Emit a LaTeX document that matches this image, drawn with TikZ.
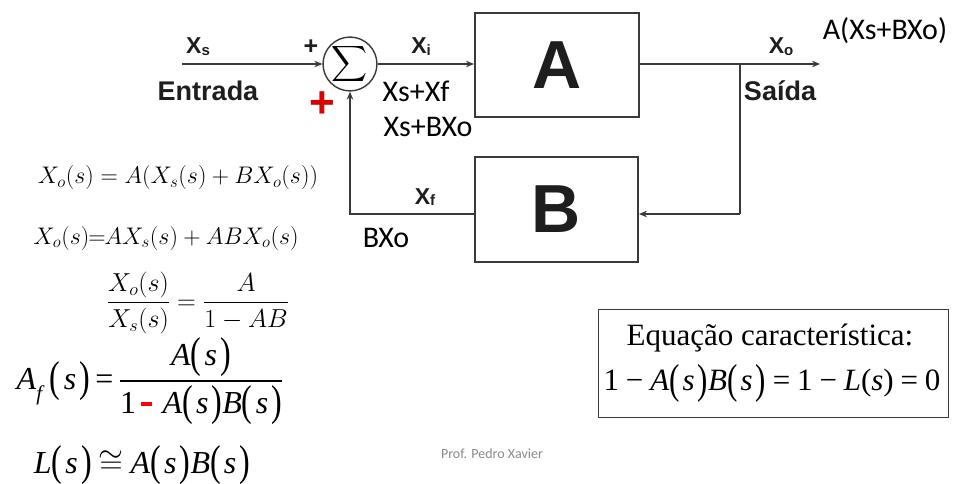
\documentclass[tikz,border=0pt]{standalone}
\usepackage{fix-cm}
\usepackage{amsmath,amssymb}
\usepackage{graphicx}
\usepackage{fontspec}
\usetikzlibrary{arrows.meta}
\newfontfamily\arl{Liberation Sans}
\newfontfamily\clb{Carlito}
\newfontfamily\tnr{Liberation Serif}
\newcommand\fs[1]{\fontsize{#1}{#1}\selectfont}
\newcommand\bpar[1]{\raisebox{-0.07em}{\scalebox{1}[1.35]{(}}\kern0.1em#1\kern0.1em\raisebox{-0.07em}{\scalebox{1}[1.35]{)}}}
\newcommand\ti[1]{\textit{#1}}
\newcommand\gapsp{\kern0.22em}
\definecolor{lc}{HTML}{3A3A3A}
\definecolor{tc}{HTML}{1E1E1E}
\definecolor{foot}{HTML}{8A8A8A}
\begin{document}
\begin{tikzpicture}[x=1pt,y=-1pt,
  wire/.style={draw=lc, line width=1.4pt},
  arr/.style={wire, -{Stealth[length=8pt,width=6.5pt]}},
  blk/.style={draw=lc, line width=2pt, minimum width=164pt, minimum height=104pt, inner sep=0pt, text=tc, font=\arl\bfseries\fs{68}},
  lab/.style={font=\arl\bfseries\fs{23}, text=tc, inner sep=0pt},
  big/.style={font=\arl\bfseries\fs{27}, text=tc, inner sep=0pt},
  cal/.style={font=\clb\fs{30}, text=black, inner sep=0pt},
  eq/.style={font=\fs{24}, text=black, inner sep=0pt},
  tm/.style={font=\tnr\fs{32}, text=black, inner sep=0pt}]
\useasboundingbox[fill=white] (0,0) rectangle (955,484);

% blocks
\node[circle, draw=lc, line width=1.4pt, minimum size=46pt, inner sep=0pt] (sum) at (350,64) {\fs{25}$\displaystyle\sum$};
\node[blk] (A) at (557,65) {A};
\node[blk, minimum width=163pt, minimum height=105pt] (B) at (556.5,209.5) {B};

% connector points
\coordinate (in) at (182,64);
\coordinate (out) at (820,64);
\coordinate (br) at (740,64);
\coordinate (fb) at (740,214);

\draw[arr] (in) -- (sum.west);
\draw[arr] (sum.east) -- (sum.east -| A.west);
\draw[arr] (sum.east -| A.east) -- (out);
\draw[wire] (br) -- (fb);
\draw[arr] (fb) -- (fb -| B.east);
\draw[arr] (fb -| B.west) -| (sum.south);

% labels
\node[lab] (xs) at (198,47) {X\raisebox{-0.15ex}{\fs{15}s}};
\node[big] (ent) at (208,91) {Entrada};
\node[font=\arl\bfseries\fs{25}, text=tc, inner sep=0pt] (p1) at (311,47) {+};
\node[font=\arl\bfseries\fs{44}, text=red!85!black, inner sep=0pt] (p2) at (322,105) {+};
\node[lab] (xi) at (421,47) {X\raisebox{-0.15ex}{\fs{15}i}};
\node[cal] (sxf) at (416,91) {Xs+Xf};
\node[cal] (sbx) at (428,127) {Xs+BXo};
\node[lab] (xo) at (781,47) {X\raisebox{-0.15ex}{\fs{15}o}};
\node[big] (sai) at (780,91) {Saída};
\node[cal] (axo) at (885,31) {A(Xs+BXo)};
\node[lab] (xf) at (425,197) {X\raisebox{-0.15ex}{\fs{15}f}};
\node[cal] (bxo) at (386,238) {BXo};

% equations
\node[eq] (e1) at (178,178) {$X_o(s) = A(X_s(s) + BX_o(s))$};
\node[eq] (e2) at (166,238) {$X_o(s)$\kern-1pt=\kern-1pt$AX_s(s) + ABX_o(s)$};
\node[eq, font=\fs{26}] (e3) at (198,303) {$\dfrac{X_o(s)}{X_s(s)} = \dfrac{A}{1-AB}$};
\node[tm] (e4) at (150,381) {\ti{A}\raisebox{-0.35em}{\fs{21}\ti{f}}\,\bpar{\ti{s}}\,=\,$\dfrac{\mbox{\tnr\fs{32}\ti{A}\bpar{\ti{s}}}}{\mbox{\tnr\fs{32}1\,\textcolor{red}{\rule[0.22em]{0.33em}{0.13em}}\,\,\ti{A}\bpar{\ti{s}}\ti{B}\bpar{\ti{s}}}}$};
\node[tm] (e5) at (142,465) {\ti{L}\bpar{\ti{s}}\gapsp$\cong$\gapsp\ti{A}\bpar{\ti{s}}\ti{B}\bpar{\ti{s}}};

% characteristic equation box
\node[draw=lc, line width=1pt, minimum width=350pt, minimum height=108pt, inner sep=0pt] (box) at (773,363) {};
\node[tm, font=\tnr\fs{31}] (c1) at (770,338) {Equação característica:};
\node[tm, font=\tnr\fs{31}] (c2) at (772,383) {1\gapsp−\gapsp\ti{A}\bpar{\ti{s}}\ti{B}\bpar{\ti{s}}\gapsp=\gapsp1\gapsp−\gapsp\ti{L}(\ti{s})\gapsp=\gapsp0};

\node[font=\clb\fs{14}, text=foot, inner sep=0pt] (prof) at (492,454) {Prof. Pedro Xavier};
\end{tikzpicture}
\end{document}
